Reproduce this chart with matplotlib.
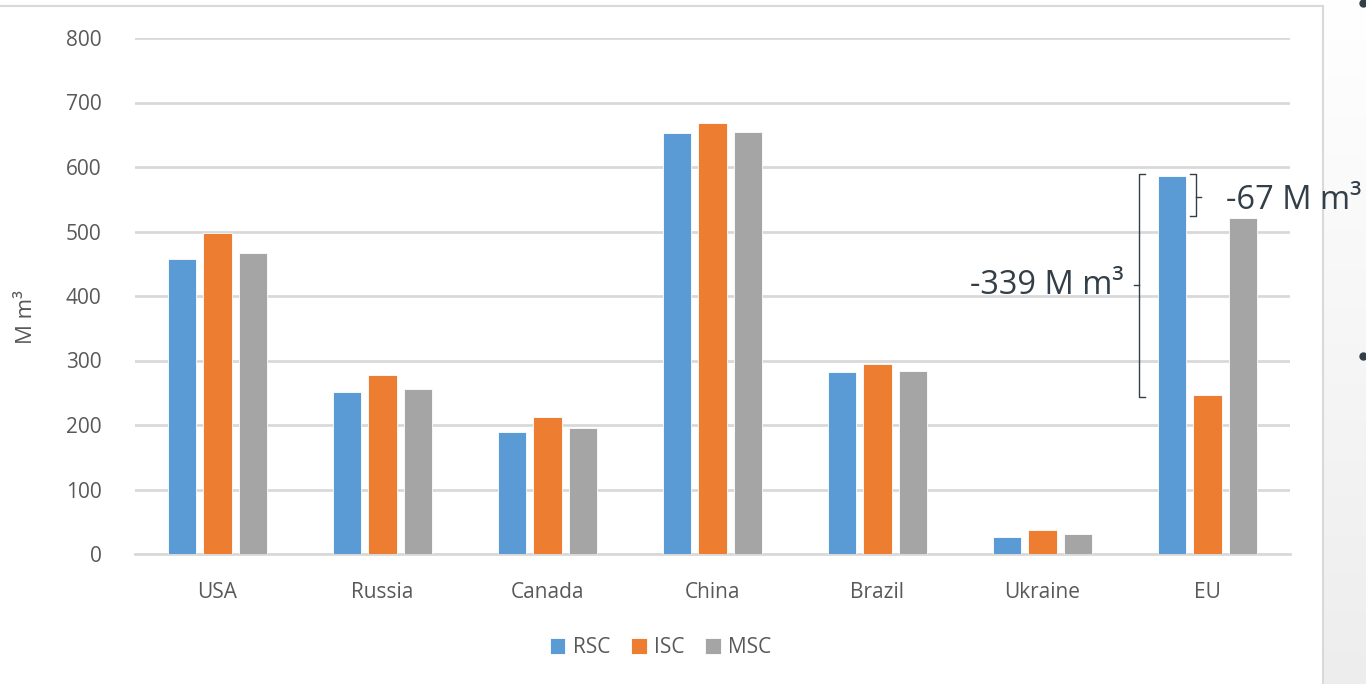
import numpy as np
import matplotlib.pyplot as plt
from matplotlib.patches import Rectangle

regions = ['USA', 'Russia', 'Canada', 'China', 'Brazil', 'Ukraine', 'EU']
rsc = [457, 251, 189, 653, 282, 26, 586]
isc = [498, 277, 212, 668, 295, 37, 247]
msc = [467, 256, 195, 654, 284, 31, 521]
series = ['RSC', 'ISC', 'MSC']
colors = ['#5B9BD5', '#ED7D31', '#A5A5A5']

plt.rcParams['font.family'] = ['Open Sans', 'DejaVu Sans']

W, H = 1366, 684
fig = plt.figure(figsize=(W / 100, H / 100), dpi=100)

# slide background on the right (light gradient)
bg = fig.add_axes([0, 0, 1, 1], zorder=-5)
grad = np.linspace(1.0, 0.93, 256).reshape(-1, 1)
bg.imshow(np.dstack([grad, grad, grad]), aspect='auto', extent=(0, 1, 0, 1), origin='upper')
bg.set_xlim(0, 1)
bg.set_ylim(0, 1)
bg.axis('off')
# chart frame (white area with gray border)
bg.add_patch(Rectangle((-0.01, -0.01), 1323 / W + 0.01, (H - 6) / H + 0.01,
                       facecolor='white', edgecolor='#d9d9d9', lw=1.5, zorder=2))
# bullet dots of the slide text
bg.plot([1363 / W, 1363 / W], [1 - 3 / H, 1 - 356 / H], 'o', color='#333f48', ms=5, zorder=3)

ax = fig.add_axes([135 / W, (H - 554) / H, (1290 - 135) / W, (554 - 38) / H])
ax.set_facecolor('none')

x = np.arange(len(regions))
bw = 0.17
step = 0.218
for i, (vals, name, c) in enumerate(zip([rsc, isc, msc], series, colors)):
    ax.bar(x + (i - 1) * step, vals, bw, color=c, edgecolor='white', linewidth=0.6,
           label=name, zorder=3)

ax.set_xlim(-0.5, 6.5)
ax.set_ylim(0, 800)
ax.set_yticks(np.arange(0, 801, 100))
ax.yaxis.grid(True, color='#d9d9d9', lw=2, zorder=0)
ax.set_axisbelow(True)
for s in ['top', 'right', 'left']:
    ax.spines[s].set_visible(False)
ax.spines['bottom'].set_color('#d9d9d9')
ax.spines['bottom'].set_linewidth(2)
ax.set_xticks(x)
ax.set_xticklabels(regions)
ax.tick_params(axis='both', length=0, labelsize=15, labelcolor='#595959')
ax.tick_params(axis='y', pad=24)
ax.tick_params(axis='x', pad=20)
ax.set_ylabel('M m³', fontsize=16, color='#595959')
ax.yaxis.set_label_coords(-0.085, 0.46)

leg = ax.legend(loc='upper center', bbox_to_anchor=(0.455, -0.125), ncol=3, frameon=False,
                fontsize=15, handlelength=0.75, handleheight=0.75, handletextpad=0.35,
                columnspacing=1.0)
for t in leg.get_texts():
    t.set_color('#595959')

# brackets on EU
ink = '#333f48'
eu = 6
lx = eu - 0.418
tk = 0.04
ax.plot([lx + tk, lx, lx, lx + tk], [isc[eu] - 3, isc[eu] - 3, rsc[eu] + 3, rsc[eu] + 3],
        color=ink, lw=1, clip_on=False, zorder=5)
mid = (isc[eu] + rsc[eu]) / 2
ax.plot([lx, lx - 0.03], [mid, mid], color=ink, lw=1, clip_on=False, zorder=5)
ax.text(eu - 0.51, 416, '-339 M m³', ha='right', va='center', fontsize=23.5, color=ink)

rx = eu - 0.067
ax.plot([rx - tk, rx, rx, rx - tk], [msc[eu] + 3, msc[eu] + 3, rsc[eu] + 3, rsc[eu] + 3],
        color=ink, lw=1, clip_on=False, zorder=5)
mid2 = (msc[eu] + rsc[eu]) / 2
ax.plot([rx, rx + 0.025], [mid2, mid2], color=ink, lw=1, clip_on=False, zorder=5)
ax.text(eu + 0.115, 548, '-67 M m³', ha='left', va='center', fontsize=23.5, color=ink,
        clip_on=False)

fig.savefig('out.png', dpi=100)
